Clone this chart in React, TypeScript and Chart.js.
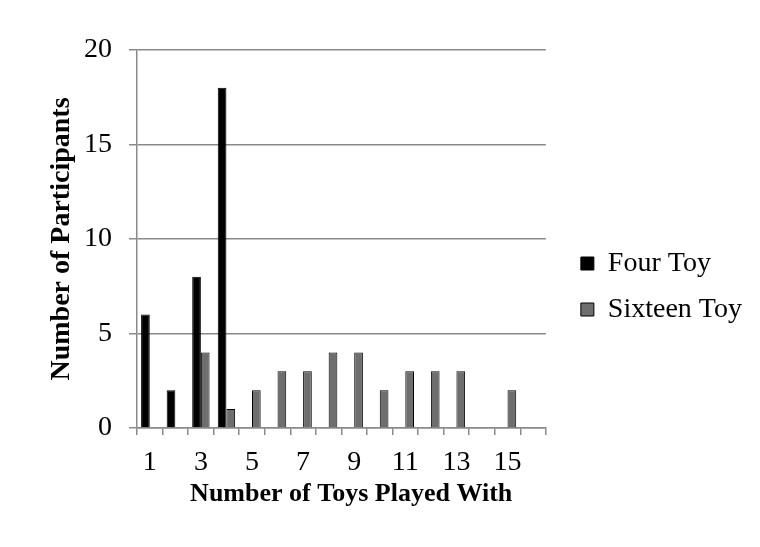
import React, { useEffect, useRef } from 'react';
import Chart from 'chart.js/auto';

// Number of toys each child played with (1..16)
const toyCounts = ['1', '2', '3', '4', '5', '6', '7', '8', '9', '10', '11', '12', '13', '14', '15', '16'];
const fourToy = [6, 2, 8, 18, 0, 0, 0, 0, 0, 0, 0, 0, 0, 0, 0, 0];
const sixteenToy = [0, 0, 4, 1, 2, 3, 3, 4, 4, 2, 3, 3, 3, 0, 2, 0];
const yTicks = [0, 5, 10, 15, 20];

const SERIF = '"Liberation Serif", "Times New Roman", serif';
const GRID = '#8a8a8a';

export default function App() {
  const canvasRef = useRef<HTMLCanvasElement>(null);
  const chartRef = useRef<Chart | null>(null);

  useEffect(() => {
    if (!canvasRef.current) return;
    document.body.style.margin = '0';
    if (chartRef.current) chartRef.current.destroy();

    chartRef.current = new Chart(canvasRef.current, {
      type: 'bar',
      data: {
        labels: toyCounts,
        datasets: [
          {
            label: 'Four Toy',
            data: fourToy,
            backgroundColor: '#000000',
            borderColor: '#000000',
            borderWidth: 1,
            categoryPercentage: 0.68,
            barPercentage: 1,
          },
          {
            label: 'Sixteen Toy',
            data: sixteenToy,
            backgroundColor: '#6e6e6e',
            borderColor: '#000000',
            borderWidth: 1,
            categoryPercentage: 0.68,
            barPercentage: 1,
          },
        ],
      },
      options: {
        responsive: false,
        animation: false,
        layout: { padding: { top: 50, right: 8, bottom: 24, left: 0 } },
        plugins: {
          tooltip: { enabled: false },
          legend: {
            position: 'right',
            maxWidth: 198,
            labels: {
              color: '#000',
              boxWidth: 13,
              boxHeight: 13,
              padding: 18,
              font: { family: SERIF, size: 28 },
            },
          },
        },
        scales: {
          x: {
            grid: {
              display: true,
              offset: true,
              drawOnChartArea: false,
              drawTicks: true,
              tickLength: 7,
              color: GRID,
              lineWidth: 1.5,
            },
            border: { color: GRID, width: 1.5 },
            ticks: {
              autoSkip: false,
              maxRotation: 0,
              padding: 11,
              color: '#000',
              font: { family: SERIF, size: 28 },
              callback: (_v, i) => (i % 2 === 0 ? toyCounts[i] : ''),
            },
            title: {
              display: true,
              text: '   Number of Toys Played With',
              color: '#000',
              font: { family: SERIF, size: 26, weight: 'bold' },
              padding: { top: 13, bottom: 13 },
            },
            afterFit: (s) => {
              s.height = 547 - 428 - 24;
            },
          },
          y: {
            min: 0,
            max: 20,
            afterBuildTicks: (s) => {
              s.ticks = yTicks.map((v) => ({ value: v }));
            },
            grid: { color: GRID, lineWidth: 1.5, tickLength: 8 },
            border: { color: GRID, width: 1.5 },
            ticks: {
              padding: 17,
              color: '#000',
              font: { family: SERIF, size: 28 },
            },
            title: {
              display: true,
              text: 'Number of Participants',
              color: '#000',
              font: { family: SERIF, size: 28, weight: 'bold' },
              padding: { top: 45, bottom: 0 },
            },
            afterFit: (s) => {
              s.width = 137;
            },
          },
          // empty spacer between plot area and legend
          gap: {
            type: 'linear',
            position: 'right',
            display: true,
            grid: { display: false },
            border: { display: false },
            ticks: { display: false },
            afterFit: (s) => {
              s.width = 17;
            },
          },
        },
      },
    });

    return () => {
      if (chartRef.current) {
        chartRef.current.destroy();
        chartRef.current = null;
      }
    };
  }, []);

  return (
    <div style={{ position: 'absolute', left: 0, top: 0, width: 760, height: 547, background: '#fff' }}>
      <canvas ref={canvasRef} width={760} height={547} style={{ display: 'block' }} />
    </div>
  );
}
